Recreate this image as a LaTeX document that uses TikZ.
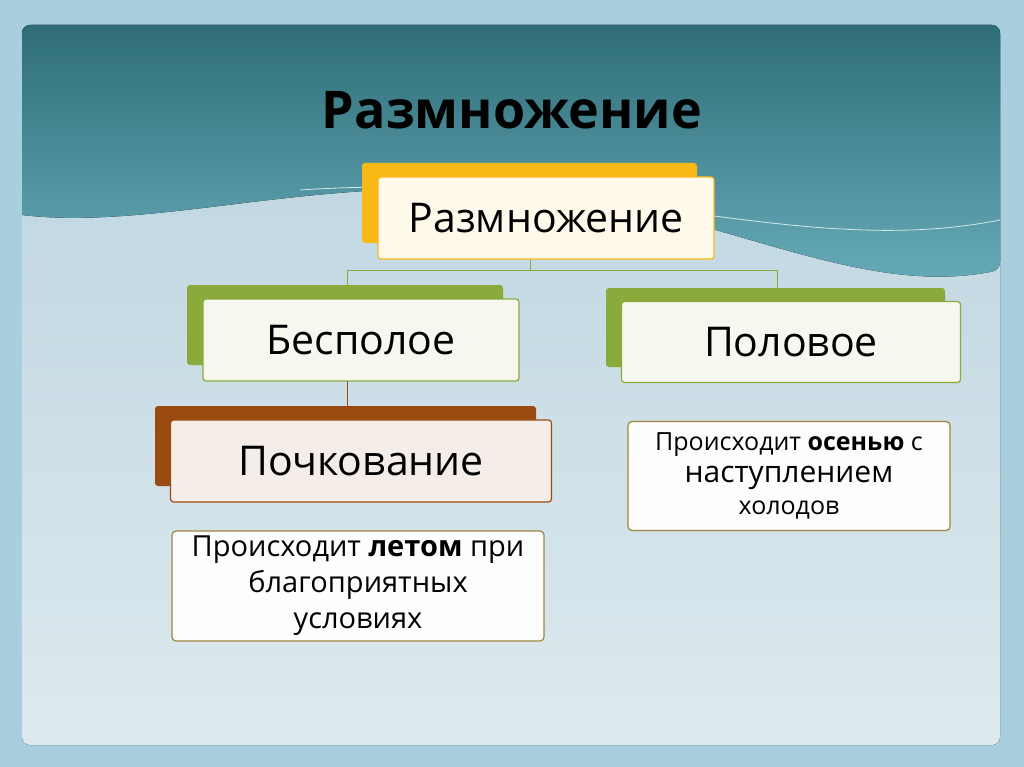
\documentclass[tikz,border=0pt]{standalone}
\usepackage{fontspec}
\setmainfont{Open Sans}
\definecolor{outbg}{HTML}{A9CEDD}
\definecolor{pantop}{HTML}{B9D3DF}
\definecolor{panbot}{HTML}{DDE9EE}
\definecolor{bandtop}{HTML}{2F6E78}
\definecolor{bandbot}{HTML}{6AAEBD}
\definecolor{orng}{HTML}{FBB917}
\definecolor{grn}{HTML}{8AAA3B}
\definecolor{brn}{HTML}{9B4A12}
\definecolor{tbord}{HTML}{A08540}
\begin{document}
\begin{tikzpicture}[x=1pt,y=-1pt,
  back/.style={rounded corners=3pt},
  front/.style={draw,line width=1.2pt,rounded corners=3pt},
  lbl/.style={font=\fontsize{41}{44}\selectfont},
  txt/.style={draw=tbord,line width=1.2pt,rounded corners=4pt,fill=white!90!panbot,align=center,font=\fontsize{29}{36}\selectfont}]
\useasboundingbox (0,0) rectangle (1024,767);
\fill[outbg] (0,0) rectangle (1024,767);
\fill[rounded corners=8pt,top color=pantop,bottom color=panbot] (22,25) rectangle (1000,745);
\fill[top color=bandtop, bottom color=bandbot, rounded corners=8pt]
  (22,215) -- (22,25) -- (1000,25) -- (1000,270)
  .. controls (850,300) and (700,200) .. (500,190)
  .. controls (300,180) and (150,230) .. (22,215);
\draw[white!70!bandbot,line width=0.8pt] (300,190) .. controls (600,170) and (800,260) .. (1000,220);
\node[font=\bfseries\fontsize{52}{56}\selectfont] (title) at (512,110) {Размножение};
% top
\fill[back,fill=orng] (362,163) rectangle (697,243);
\node[front,draw=orng,fill=white!92!orng,minimum width=336pt,minimum height=82pt,lbl] (r) at (546,218) {Размножение};
% bespoloe
\fill[back,fill=grn] (187,285) rectangle (503,365);
\node[front,draw=grn,fill=white!92!grn,minimum width=316pt,minimum height=82pt,lbl] (b) at (361,340) {Бесполое};
% polovoe
\fill[back,fill=grn] (606,288) rectangle (945,367);
\node[front,draw=grn,fill=white!92!grn,minimum width=339pt,minimum height=81pt,lbl] (p) at (791,342) {Половое};
% pochkovanie
\fill[back,fill=brn] (155,406) rectangle (536,486);
\node[front,draw=brn,fill=white!90!brn,minimum width=381pt,minimum height=82pt,lbl] (k) at (361,461) {Почкование};
% connectors
\coordinate (j) at (530,270);
\draw[grn,line width=0.9pt] (r.south -| j) -- (j) -| (347,285);
\draw[grn,line width=0.9pt] (j) -| (777,288);
\draw[brn,line width=0.9pt] (347,381) -- (347,406);
% text boxes
\node[txt,minimum width=372pt,minimum height=110pt] (t1) at (358,586) {Происходит \textbf{летом} при\\благоприятных\\условиях};
\node[txt,font=\fontsize{25}{32}\selectfont,minimum width=322pt,minimum height=109pt] (t2) at (789,476) {Происходит \textbf{осенью} с\\{\fontsize{30}{32}\selectfont наступлением}\\холодов};
\end{tikzpicture}
\end{document}
